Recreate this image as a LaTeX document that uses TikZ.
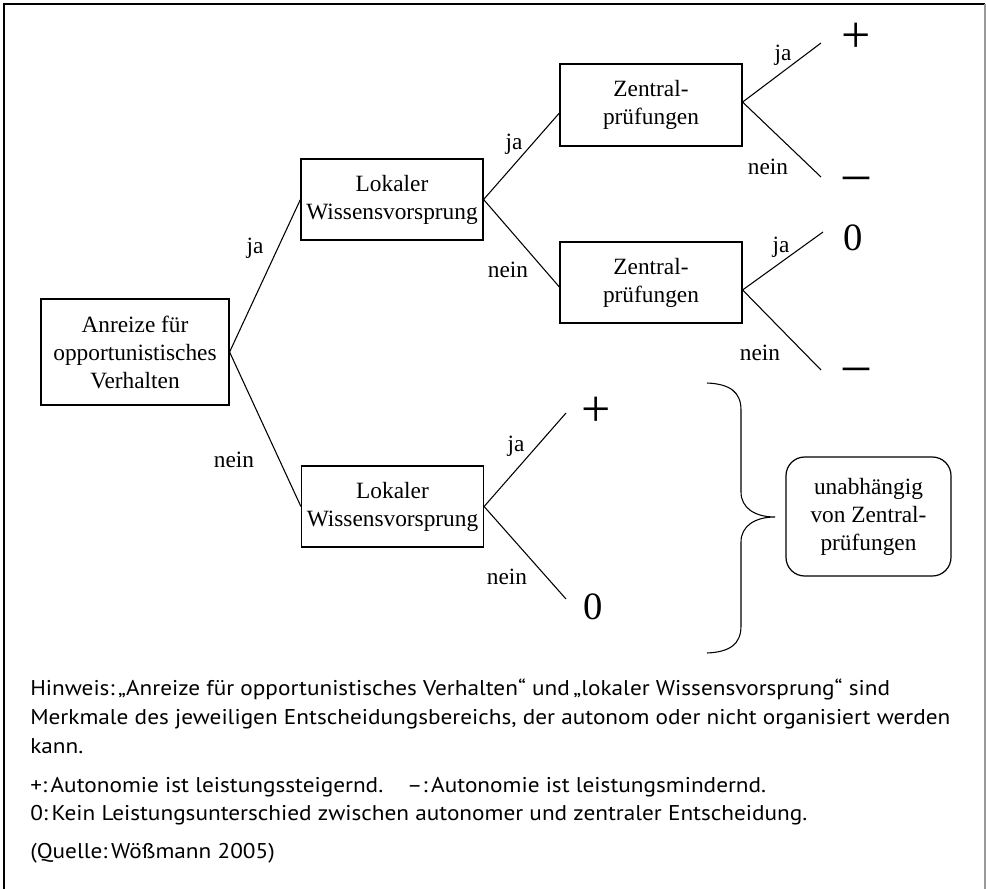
\documentclass[tikz,border=0pt]{standalone}
\usepackage{fontspec}
\setmainfont{Liberation Serif}
\newfontfamily\notefont[FakeStretch=1.09]{PT Sans}
\begin{document}
\begin{tikzpicture}[x=0.75pt,y=-0.75pt]
  \useasboundingbox (0,0) rectangle (986,889);
  \draw[line width=0.8pt] (4,889) -- (4,4) -- (985,4);
  \draw[line width=0.8pt, black!40] (985,4) -- (985,889);
  \begin{scope}[every node/.style={draw=black, line width=0.9pt, align=center, inner sep=0pt, font=\fontsize{17.5}{21}\selectfont}]
    \node[minimum width=141pt, minimum height=79.5pt] (anreiz) at (135,352) {Anreize für\\opportunistisches\\Verhalten};
    \node[minimum width=136.5pt, minimum height=60.75pt] (lok1) at (392,199.5) {Lokaler\\Wissensvorsprung};
    \node[minimum width=136.5pt, minimum height=60.75pt] (lok2) at (392.5,506.5) {Lokaler\\Wissensvorsprung};
    \node[minimum width=136.5pt, minimum height=61.5pt] (zen1) at (651,105) {Zentral-\\prüfungen};
    \node[minimum width=136.5pt, minimum height=60.75pt] (zen2) at (651,282.5) {Zentral-\\prüfungen};
    \node[rounded corners=14pt, minimum width=123.75pt, minimum height=89.25pt] (unab) at (868.5,516.5) {unabhängig\\von Zentral-\\prüfungen};
  \end{scope}
  \coordinate (z1ja) at (821,43);
  \coordinate (z1nein) at (821,177);
  \coordinate (z2ja) at (823,232);
  \coordinate (z2nein) at (821,370);
  \coordinate (l2ja) at (566,413);
  \coordinate (l2nein) at (566,599);
  \begin{scope}[every edge/.style={draw=black, line width=0.8pt}]
    \path (anreiz.east) edge (lok1.west);
    \path (anreiz.east) edge (lok2.west);
    \path (lok1.east) edge ([yshift=-6pt]zen1.west);
    \path (lok1.east) edge ([yshift=-3.4pt]zen2.west);
    \path ([yshift=2.2pt]zen1.east) edge (z1ja);
    \path ([yshift=2.2pt]zen1.east) edge (z1nein);
    \path ([yshift=-5.6pt]zen2.east) edge (z2ja);
    \path ([yshift=-5.6pt]zen2.east) edge (z2nein);
    \path (lok2.east) edge (l2ja);
    \path (lok2.east) edge (l2nein);
  \end{scope}
  % branch labels
  \begin{scope}[every node/.style={inner sep=0pt, font=\fontsize{17.5}{21}\selectfont}]
    \node (ja1) at (255,248) {ja};
    \node (nein1) at (234,460) {nein};
    \node (ja2) at (514,144) {ja};
    \node (nein2) at (508,270) {nein};
    \node (ja3) at (783,55) {ja};
    \node (nein3) at (768,167) {nein};
    \node (ja4) at (781,247) {ja};
    \node (nein4) at (760,353) {nein};
    \node (ja5) at (516,446) {ja};
    \node (nein5) at (507,577) {nein};
  \end{scope}
  % outcomes
  \begin{scope}[every node/.style={inner sep=0pt, font=\fontsize{39}{42}\selectfont}]
    \node (plus1) at (856,38) {+};
    \node (minus1) at (856,184) {–};
    \node (minus2) at (856,375) {–};
    \node (plus2) at (596,412) {+};
  \end{scope}
  \begin{scope}[every node/.style={inner sep=0pt, font=\fontsize{29}{32}\selectfont}]
    \node (null1) at (853,238) {0};
    \node (null2) at (593,607) {0};
  \end{scope}
  \draw[line width=0.8pt] (707,383) .. controls (730,384) and (741,392) .. (741,410) -- (741,492)
    .. controls (741,508) and (755,517) .. (775,517) .. controls (755,517) and (741,526) .. (741,542)
    -- (741,626) .. controls (741,644) and (730,652) .. (707,653);
  % note
  \begin{scope}[every node/.style={anchor=base west, inner sep=0pt, font=\notefont\fontsize{16}{19}\selectfont}]
    \node (hinweis) at (30,695) {Hinweis:\,„Anreize für opportunistisches Verhalten“ und\,„lokaler Wissensvorsprung“ sind};
    \node (merkmale) at (30,724) {Merkmale des jeweiligen Entscheidungsbereichs, der autonom oder nicht organisiert werden};
    \node (kann) at (30,753) {kann.};
    \node (plusnote) at (30,792) {+:\,Autonomie ist leistungssteigernd.\hspace{18pt}–:\,Autonomie ist leistungsmindernd.};
    \node (nullnote) at (30,820) {0:\,Kein Leistungsunterschied zwischen autonomer und zentraler Entscheidung.};
    \node (quelle) at (30,858) {(Quelle:\,Wößmann 2005)};
  \end{scope}
\end{tikzpicture}
\end{document}
